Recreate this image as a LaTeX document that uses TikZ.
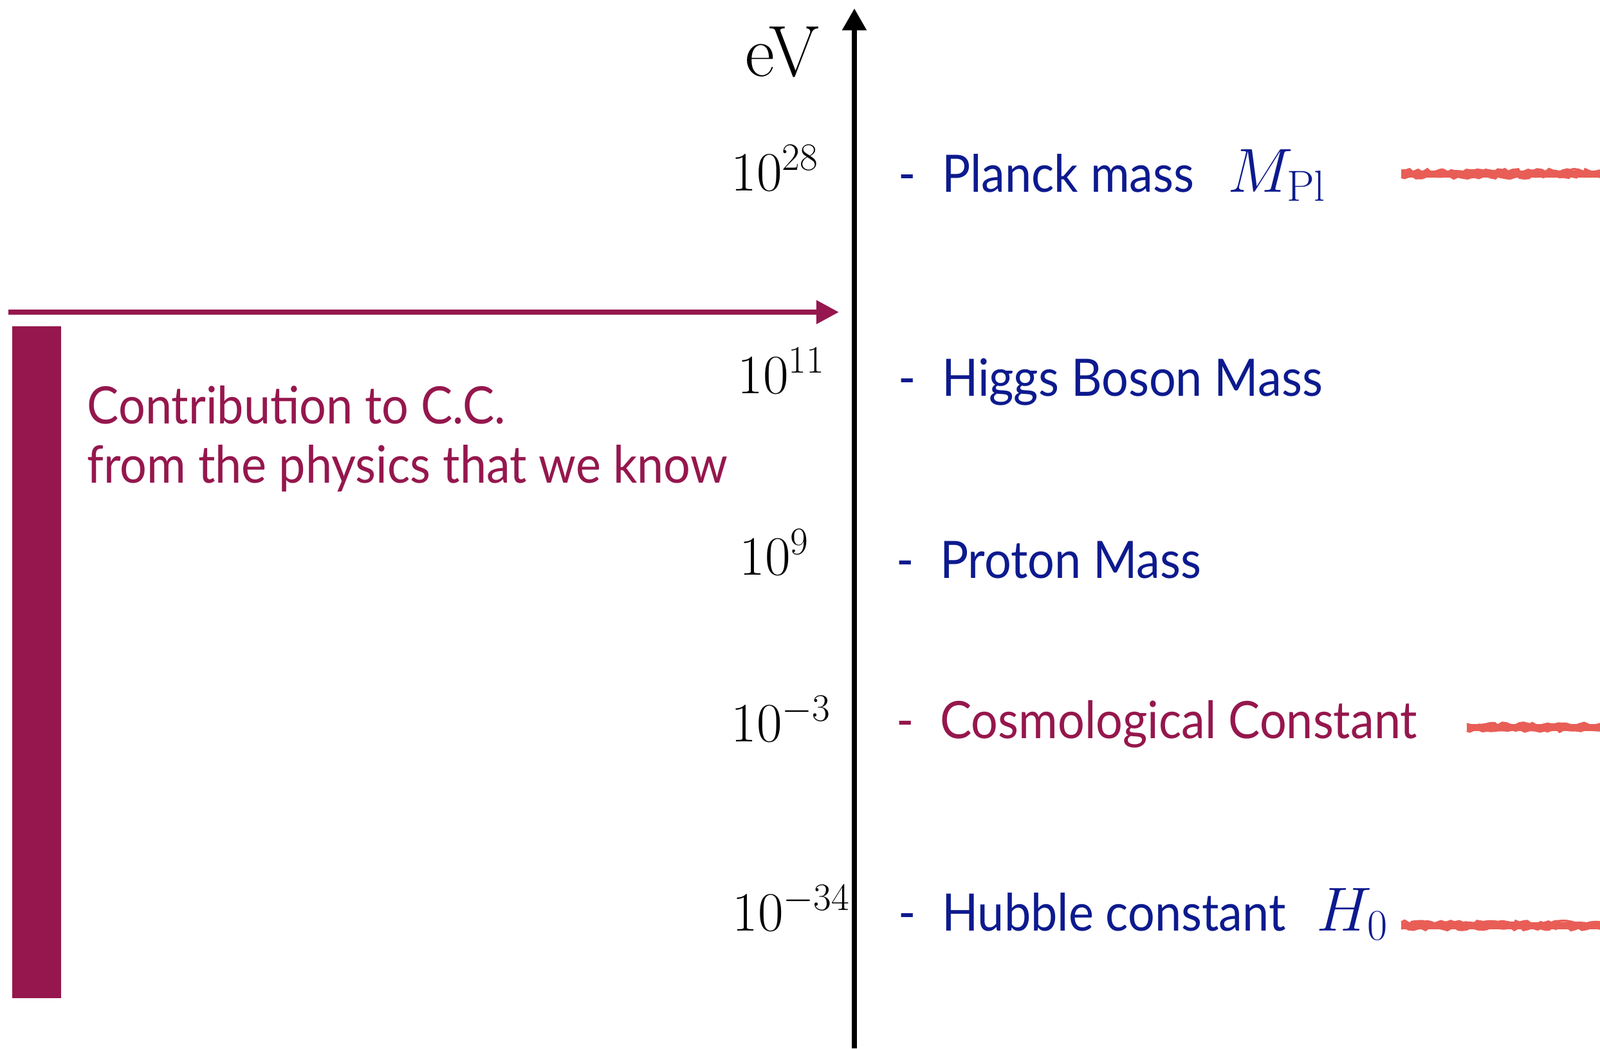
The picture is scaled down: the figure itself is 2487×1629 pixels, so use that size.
\RequirePackage{fix-cm}
\documentclass[tikz,border=0pt]{standalone}
\usepackage{fontspec}
\newfontfamily\gillfont{Lato}[FakeStretch=0.92]
\usetikzlibrary{arrows.meta,positioning,decorations.pathmorphing}
\definecolor{scaleblue}{HTML}{0D1A8E}
\definecolor{ccmaroon}{HTML}{95174D}
\definecolor{gapred}{HTML}{E85E57}
\tikzset{
  energyaxis/.style={-{Triangle[length=3.4mm,width=3.6mm]},line width=0.8mm,black},
  ccarrow/.style={-{Triangle[length=3.5mm,width=3.5mm]},line width=0.8mm,ccmaroon},
  ticklabel/.style={anchor=base west,inner sep=0pt,font=\fontsize{24.5}{29}\selectfont},
  scalelabel/.style={anchor=base west,inner sep=0pt,text=scaleblue,font=\gillfont\fontsize{22.8}{26}\selectfont},
  ccnote/.style={anchor=base west,inner sep=0pt,text=ccmaroon,font=\gillfont\fontsize{22.8}{26}\selectfont},
  symlabel/.style={anchor=base west,inner sep=0pt,text=scaleblue,font=\fontsize{27.5}{32}\selectfont},
  gapline/.style={line width=1.1mm,gapred},
  gapedge/.style={line width=0.35mm,gapred,decorate,decoration={random steps,segment length=0.6mm,amplitude=0.25mm}}
}
\begin{document}
\begin{tikzpicture}[x=0.01cm,y=-0.01cm]
  \useasboundingbox (0,0) rectangle (2487,1629);
  % energy axis
  \coordinate (axbot) at (1328,1629);
  \coordinate (axtop) at (1328,13);
  \draw[energyaxis] (axbot) -- (axtop);
  \node[anchor=base west,inner sep=0pt,font=\fontsize{32}{38}\selectfont] (ev) at (1158,118) {eV};
  % tick values
  \node[ticklabel] (t28) at (1136,296) {$10^{28}$};
  \node[ticklabel] (t11) at (1146,611) {$10^{11}$};
  \node[ticklabel] (t9) at (1149,893) {$10^{9}$};
  \node[ticklabel] (tm3) at (1136,1152) {$10^{-3}$};
  \node[ticklabel] (tm34) at (1138,1446) {$10^{-34}$};
  % scales
  \node[scalelabel] (planck) at (1396,298) {-\hspace{0.5em}Planck mass};
  \node[symlabel] (mpl) at (1908,298) {$M_{\mathrm{Pl}}$};
  \node[scalelabel] (higgs) at (1396,615) {-\hspace{0.5em}Higgs Boson Mass};
  \node[scalelabel] (proton) at (1393,898) {-\hspace{0.5em}Proton Mass};
  \node[scalelabel,text=ccmaroon] (cosmo) at (1393,1147) {-\hspace{0.5em}Cosmological Constant};
  \node[scalelabel] (hubble) at (1396,1446) {-\hspace{0.5em}Hubble constant};
  \node[symlabel] (h0) at (2046,1446) {$H_0$};
  % red marks
  \coordinate (mplend) at (2487,270);
  \coordinate (ccend) at (2487,1130);
  \coordinate (h0end) at (2487,1438);
  \foreach \ys/\xs in {270/2178,1130/2280,1438/2178} {
    \draw[gapline] (\xs,\ys) -- (2487,\ys);
    \draw[gapedge] (\xs,\ys-5) -- (2487,\ys-5);
    \draw[gapedge] (\xs,\ys+5) -- (2487,\ys+5);
  }
  % contribution we know
  \coordinate (ccstart) at (13,485);
  \coordinate (cctip) at (1304,485);
  \draw[ccarrow] (ccstart) -- (cctip);
  \fill[ccmaroon] (19,507) rectangle (95,1551);
  \node[ccnote] (cc1) at (135,658) {Contribution to C.C.};
  \node[ccnote] (cc2) at (135,750) {from the physics that we know};
\end{tikzpicture}
\end{document}
